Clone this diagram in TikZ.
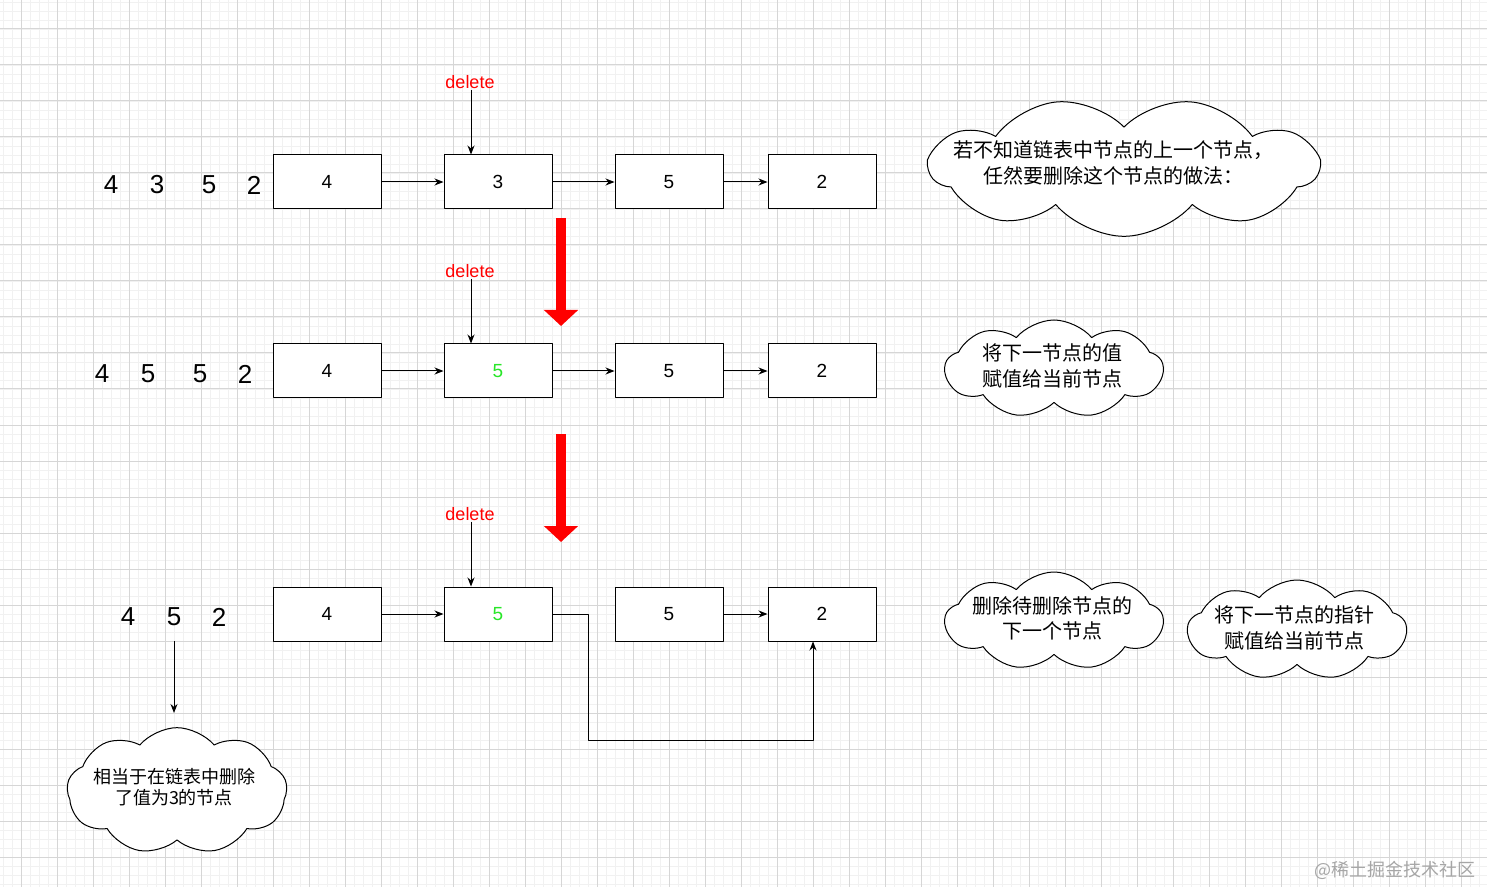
\documentclass[tikz,border=0pt]{standalone}
\usepackage{fontspec}
\setmainfont{Liberation Sans}
\newfontfamily\cjk{Noto Sans CJK SC}
\usetikzlibrary{shapes.symbols,arrows.meta}
\definecolor{gridmajor}{RGB}{214,214,214}
\definecolor{gridminor}{RGB}{241,241,241}
\definecolor{valgreen}{RGB}{40,230,40}

\begin{document}
\begin{tikzpicture}[x=0.75pt, y=-0.75pt, line join=round, >={Stealth[length=6.75pt,width=5.25pt]},
  box/.style={draw, line width=0.75pt, fill=white, minimum width=81pt, minimum height=40.5pt, inner sep=0pt, font=\fontsize{14.25}{16}\selectfont},
  bignum/.style={font=\fontsize{19.5}{22}\selectfont, inner sep=0pt},
  dellabel/.style={text=red, font=\fontsize{13.5}{15}\selectfont, inner sep=1pt},
  note/.style={cloud, draw, line width=0.75pt, fill=white, cloud puffs=9, cloud puff arc=100, cloud ignores aspect, inner sep=0pt},
  notetext/.style={align=center, inner sep=0pt, font=\cjk\fontsize{15}{19}\selectfont},
  link/.style={->, line width=0.75pt},
  bigdown/.style={red, line width=7.5pt, -{Triangle[length=12pt,width=25pt]}}]
  \useasboundingbox (0,0) rectangle (1487,887);
  \fill[white] (0,0) rectangle (1487,887);
  % grid
  \foreach \gx in {3.6,12.6,...,1487} \draw[gridminor, line width=0.6pt] (\gx,0) -- (\gx,887);
  \foreach \gy in {2,11,...,887} \draw[gridminor, line width=0.6pt] (0,\gy) -- (1487,\gy);
  \foreach \gx in {21.6,57.6,...,1487} \draw[gridmajor, line width=0.75pt] (\gx,0) -- (\gx,887);
  \foreach \gy in {29,65,...,887} \draw[gridmajor, line width=0.75pt] (0,\gy) -- (1487,\gy);

  % row 1
  \node[bignum] (a1) at (111,185) {4};
  \node[bignum] (a2) at (157,185) {3};
  \node[bignum] (a3) at (209,185) {5};
  \node[bignum] (a4) at (254,185) {2};
  \node[box] (b11) at (327,182) {4};
  \node[box] (b12) at (498,182) {3};
  \node[box] (b13) at (669,182) {5};
  \node[box] (b14) at (822,182) {2};
  \draw[link] (b11) -- (b12);
  \draw[link] (b12) -- (b13);
  \draw[link] (b13) -- (b14);
  \node[dellabel] (del1) at (470,82) {delete};
  \draw[link] (del1.south) ++(1,0) -- ([xshift=-20.25pt]b12.north);

  \draw[bigdown] (561,218) -- (561,326);

  % row 2
  \node[bignum] (c1) at (102,374) {4};
  \node[bignum] (c2) at (148,374) {5};
  \node[bignum] (c3) at (200,374) {5};
  \node[bignum] (c4) at (245,374) {2};
  \node[box] (b21) at (327,371) {4};
  \node[box, text=valgreen] (b22) at (498,371) {5};
  \node[box] (b23) at (669,371) {5};
  \node[box] (b24) at (822,371) {2};
  \draw[link] (b21) -- (b22);
  \draw[link] (b22) -- (b23);
  \draw[link] (b23) -- (b24);
  \node[dellabel] (del2) at (470,271) {delete};
  \draw[link] (del2.south) ++(1,0) -- ([xshift=-20.25pt]b22.north);

  \draw[bigdown] (561,434) -- (561,542);

  % row 3
  \node[bignum] (e1) at (128,617) {4};
  \node[bignum] (e2) at (174,617) {5};
  \node[bignum] (e3) at (219,617) {2};
  \node[box] (b31) at (327,614) {4};
  \node[box, text=valgreen] (b32) at (498,614) {5};
  \node[box] (b33) at (669,614) {5};
  \node[box] (b34) at (822,614) {2};
  \draw[link] (b31) -- (b32);
  \draw[link] (b33) -- (b34);
  \draw[link] (b32.east) -| (588,740) -| ([xshift=-6.75pt]b34.south);
  \node[dellabel] (del3) at (470,514) {delete};
  \draw[link] (del3.south) ++(1,0) -- ([xshift=-20.25pt]b32.north);

  \coordinate (tipc) at (174,713);
  \draw[link] (e2.south) ++(0,15) -- (tipc);

  % notes
  \node[note, rotate=180, minimum width=291pt, minimum height=104pt] (n1) at (1124,167) {};
  \node[notetext] (n1t) at (1113,163) {若不知道链表中节点的上一个节点，\\任然要删除这个节点的做法：};
  \node[note, minimum width=163.5pt, minimum height=73.5pt] (n2) at (1054,369) {};
  \node[notetext] (n2t) at (1052,366) {将下一节点的值\\赋值给当前节点};
  \node[note, minimum width=163.5pt, minimum height=73.5pt] (n3) at (1054,621) {};
  \node[notetext] (n3t) at (1052,618) {删除待删除节点的\\下一个节点};
  \node[note, minimum width=164pt, minimum height=75pt] (n4) at (1297,630) {};
  \node[notetext] (n4t) at (1294,628) {将下一节点的指针\\赋值给当前节点};
  \node[note, minimum width=165pt, minimum height=95pt] (n5) at (177,791) {};
  \node[notetext, font=\cjk\fontsize{13.5}{16}\selectfont] (n5t) at (174,787) {相当于在链表中删除\\了值为3的节点};

  \node[text=gray!70, font=\cjk\fontsize{13.5}{15}\selectfont, anchor=east] (mark) at (1480,870) {@稀土掘金技术社区};
\end{tikzpicture}
\end{document}
